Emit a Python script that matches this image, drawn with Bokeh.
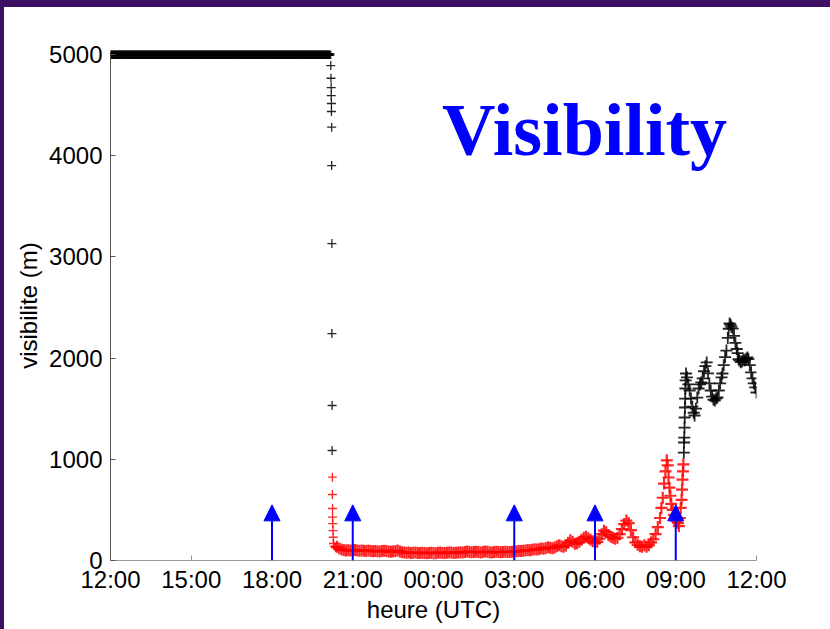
from bokeh.plotting import figure
from bokeh.models import Range1d, FixedTicker, Label, Arrow, NormalHead, ColumnDataSource
from bokeh.embed import file_html
from bokeh.resources import INLINE

# ---------------- data (time in minutes since 12:00 UTC, visibility in m) ----------------
hour_ticks = [0, 180, 360, 540, 720, 900, 1080, 1260, 1440]
hour_labels = ["12:00", "15:00", "18:00", "21:00", "00:00", "03:00", "06:00", "09:00", "12:00"]
vis_ticks = [0, 1000, 2000, 3000, 4000, 5000]

# saturated sensor (5000 m) from 12:00 until the fog onset
plateau_min = list(range(0, 492, 3))
plateau_vis = [5000] * len(plateau_min)

# rapid drop at fog onset (~20:12)
drop_min = [491, 491.5, 492, 492, 492.5, 492.5, 493, 493, 493.5, 493.5, 494, 494,
            494.5, 494.5, 495, 495, 495.5, 496, 496.5, 497, 499, 502]
drop_vis = [4891, 4766, 4674, 4595, 4516, 4437, 4282, 3903, 3132, 2243, 1532, 1087,
            823, 652, 514, 428, 365, 296, 230, 168, 140, 125]

# fog during the night and morning
night_min = [505, 510, 515, 520, 525, 530, 535, 540, 545, 550, 555, 560, 565, 570, 575, 580,
             585, 590, 595, 600, 605, 610, 615, 620, 625, 630, 635, 640, 645, 650, 655, 660,
             665, 670, 675, 680, 685, 690, 695, 700, 705, 710, 715, 720, 725, 730, 735, 740,
             745, 750, 755, 760, 765, 770, 775, 780, 785, 790, 795, 800, 805, 810, 815, 820,
             825, 830, 835, 840, 845, 850, 855, 860, 865, 870, 875, 880, 885, 890, 895, 900,
             905, 910, 915, 920, 925, 930, 935, 940, 945, 950, 955, 960, 965, 970, 975, 980,
             985, 990, 995, 1000, 1005, 1010, 1015, 1020, 1025, 1030, 1035, 1040, 1045, 1050,
             1055, 1060, 1065, 1070, 1075, 1080, 1085, 1090, 1095, 1100, 1105, 1110, 1115,
             1120, 1125, 1130, 1135, 1140, 1145, 1150, 1155, 1160, 1165, 1170, 1175, 1180,
             1185, 1190, 1195, 1200, 1205, 1210, 1215, 1220, 1225, 1228, 1231, 1234, 1237,
             1240, 1242, 1244, 1246, 1248, 1250, 1253, 1256, 1259, 1262, 1265, 1267, 1269,
             1271, 1273, 1274, 1275, 1276, 1277]
night_vis = [135, 118, 108, 104, 100, 102, 98, 100, 103, 99, 96, 100, 97, 95, 98, 94,
             92, 95, 92, 90, 93, 97, 95, 90, 86, 88, 94, 98, 90, 82, 78, 76,
             78, 74, 76, 78, 75, 73, 76, 74, 72, 75, 77, 74, 72, 76, 78, 75,
             73, 76, 80, 78, 75, 77, 80, 82, 79, 84, 88, 85, 82, 84, 86, 83,
             80, 84, 88, 86, 82, 80, 83, 86, 84, 81, 84, 87, 85, 83, 86, 88,
             92, 95, 93, 96, 100, 104, 102, 106, 110, 108, 112, 118, 115, 122, 130, 126,
             120, 128, 140, 150, 142, 135, 148, 175, 200, 185, 165, 170, 185, 205,
             225, 235, 220, 205, 190, 175, 185, 215, 260, 295, 280, 250, 235,
             225, 215, 225, 260, 310, 360, 395, 370, 300, 230, 180, 155, 140,
             135, 150, 135, 150, 180, 210, 260, 330, 420, 520, 620, 760, 880,
             990, 940, 820, 720, 640, 560, 500, 450, 410, 390, 370, 340, 420,
             520, 600, 700, 800, 880, 950]

# fog lifting, late morning
day_min = [1278, 1278.5, 1279, 1279.5, 1280, 1280.5, 1281, 1281.5, 1282, 1283, 1285, 1288,
           1291, 1294, 1297, 1300, 1302, 1305, 1308, 1311, 1314, 1317, 1320, 1323, 1326,
           1329, 1332, 1335, 1338, 1341, 1344, 1347, 1350, 1353, 1356, 1359, 1362, 1364,
           1367, 1370, 1373, 1376, 1378, 1380, 1382, 1384, 1387, 1390, 1393, 1396, 1398,
           1400, 1402, 1405, 1408, 1411, 1414, 1417, 1420, 1422, 1425, 1428, 1431, 1434,
           1437, 1440]
day_vis = [1067, 1166, 1215, 1314, 1413, 1512, 1600, 1700, 1780, 1848, 1810, 1740,
           1680, 1600, 1520, 1460, 1433, 1500, 1610, 1700, 1740, 1760, 1800, 1870, 1920,
           1957, 1850, 1750, 1680, 1620, 1590, 1581, 1600, 1611, 1680, 1750, 1810, 1848,
           1930, 2010, 2075, 2200, 2290, 2342, 2330, 2310, 2292, 2220, 2150, 2090, 2050,
           1990, 1976, 1960, 1970, 1985, 1980, 1995, 2006, 1990, 1930, 1860, 1800, 1750,
           1710, 1660]

# radiosonde launches (blue arrows)
arrow_min = [360, 540, 900, 1080, 1260]
arrow_top = [550, 550, 550, 550, 550]

FOG_THRESHOLD = 1000

# ---------------- figure ----------------
t_all = plateau_min + drop_min + night_min + day_min
v_all = plateau_vis + drop_vis + night_vis + day_vis
colors = ["red" if v < FOG_THRESHOLD else "black" for v in v_all]
# marker style per segment
sizes = ([9] * len(plateau_min) + [9] * len(drop_min)
         + [12] * len(night_min) + [12] * len(day_min))
widths = ([3] * len(plateau_min) + [1.3] * len(drop_min)
          + [2.2] * len(night_min) + [1.8] * len(day_min))
src = ColumnDataSource(dict(t=t_all, v=v_all, c=colors, s=sizes, w=widths))

# slide frame: purple band on top (7px) and left (4px)
p = figure(width=826, height=622, output_backend="svg", toolbar_location=None,
           x_range=Range1d(0, 1440), y_range=Range1d(0, 5040),
           min_border_left=106, min_border_right=78, min_border_top=43,
           min_border_bottom=76)
p.styles = {"border-top": "7px solid #3d1063", "border-left": "4px solid #3d1063",
            "box-sizing": "content-box"}
p.outline_line_color = None
p.background_fill_color = "white"
p.border_fill_color = "white"
p.xgrid.visible = False
p.ygrid.visible = False

p.scatter("t", "v", source=src, marker="cross", size="s", line_color="c",
          line_width="w", line_alpha=0.85)

asrc = ColumnDataSource(dict(x=arrow_min, y0=[0] * len(arrow_min), y1=arrow_top))
p.add_layout(Arrow(source=asrc, x_start="x", y_start="y0", x_end="x", y_end="y1",
                   line_color="blue", line_width=2,
                   end=NormalHead(size=16, fill_color="blue", line_color="blue")))

p.add_layout(Label(x=739, y=4250, text="Visibility", text_font="Liberation Serif",
                   text_font_size="74px", text_font_style="bold", text_color="blue",
                   text_baseline="alphabetic"))

xa = p.xaxis[0]
xa.ticker = FixedTicker(ticks=hour_ticks)
xa.major_label_overrides = {t: lab for t, lab in zip(hour_ticks, hour_labels)}
xa.axis_label = "heure (UTC)"

ya = p.yaxis[0]
ya.ticker = FixedTicker(ticks=vis_ticks)
ya.bounds = (0, 5000)
ya.axis_label = "visibilite (m)"

for ax, col in ((xa, "#999999"), (ya, "#555555")):
    ax.axis_line_color = col
    ax.major_tick_line_color = col
    ax.minor_tick_line_color = None
    ax.major_tick_in = 5
    ax.major_tick_out = 0
    ax.major_label_text_font = "Liberation Sans"
    ax.major_label_text_font_size = "24px"
    ax.major_label_text_color = "black"
    ax.axis_label_text_font = "Liberation Sans"
    ax.axis_label_text_font_size = "24px"
    ax.axis_label_text_font_style = "normal"
    ax.axis_label_text_color = "black"

xa.major_label_standoff = 5
xa.axis_label_standoff = 0
ya.major_label_standoff = 8
ya.axis_label_standoff = 4

open("out.html", "w").write(file_html(p, INLINE))
